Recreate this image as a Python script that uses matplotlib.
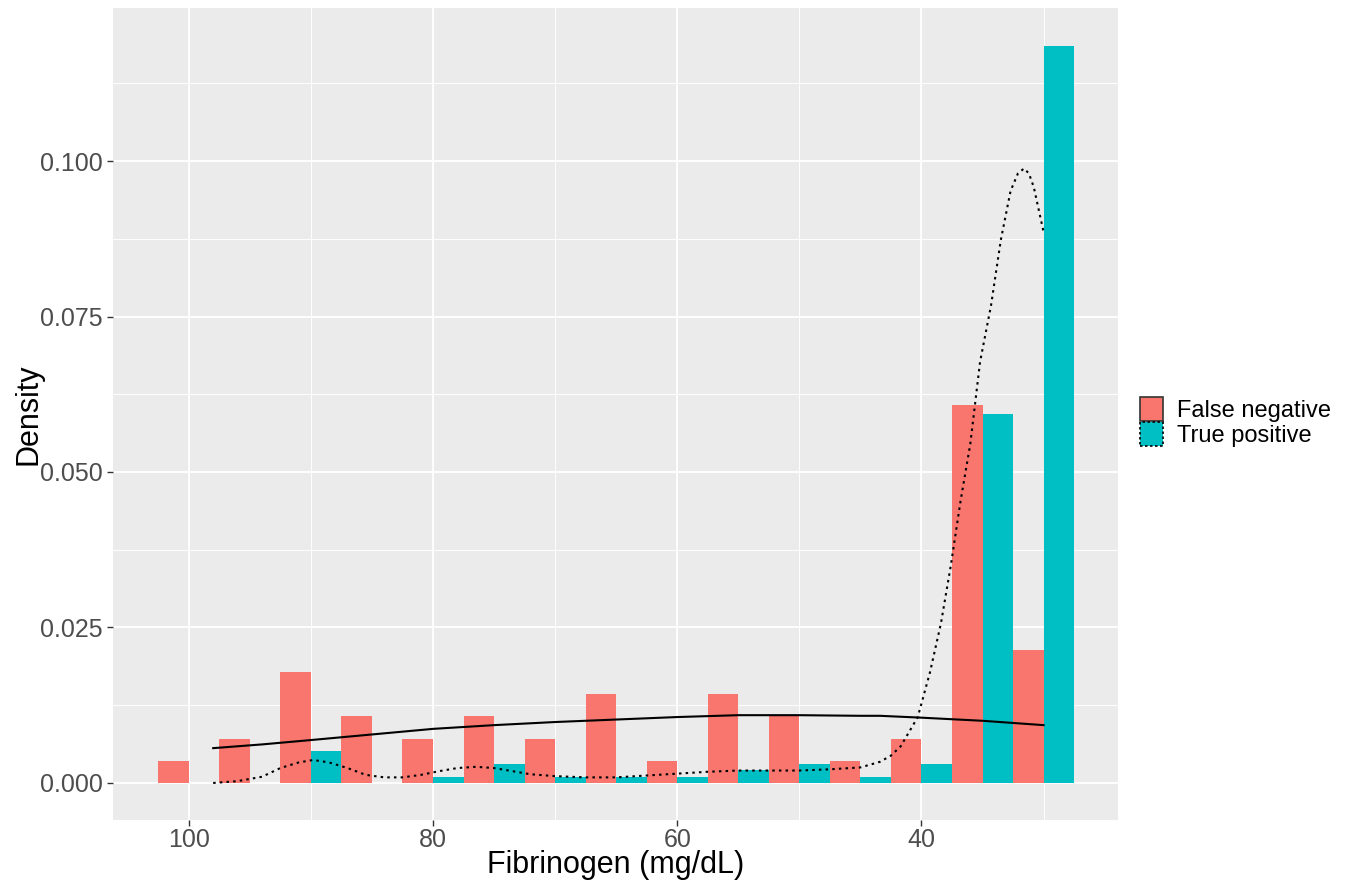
import matplotlib.pyplot as plt
from matplotlib.patches import Patch
from matplotlib.ticker import MultipleLocator

plt.rcParams['font.family'] = ['Liberation Sans', 'DejaVu Sans']

# histogram bins (centres, width 5), density per group
bin_centers = [100, 95, 90, 85, 80, 75, 70, 65, 60, 55, 50, 45, 40, 35, 30]
fn_density = [0.00357, 0.00714, 0.01786, 0.01071, 0.00714, 0.01071, 0.00714,
              0.01429, 0.00357, 0.01429, 0.01071, 0.00357, 0.00714, 0.06071, 0.02143]
tp_density = [0.0, 0.0, 0.00515, 0.0, 0.00103, 0.00309, 0.00103,
              0.00103, 0.00103, 0.00206, 0.00309, 0.00103, 0.00309, 0.05928, 0.11856]

# kernel density curves
fn_kde_x = [98, 94, 90, 85, 80, 75, 70, 65, 60, 55, 50, 45, 43.4, 40, 35, 30]
fn_kde_y = [0.0056, 0.0062, 0.0069, 0.0078, 0.0087, 0.0093, 0.0098, 0.0102,
            0.0106, 0.0109, 0.0109, 0.0108, 0.0108, 0.0105, 0.0100, 0.0093]

tp_kde_x = [98, 96, 94, 92.5, 91, 89.8, 88.5, 87, 85.5, 84, 82.5, 81, 79.5, 78,
            76.5, 75, 73.5, 72, 70, 67.5, 65, 62.5, 60, 57.5, 55, 52.5, 50, 47.5,
            45, 43.4, 42.5, 41.7, 40.3, 39.3, 38.4, 37.6, 36.8, 36.0, 35.2, 34.3,
            33.5, 32.7, 32.1, 31.6, 31.2, 30.8, 30.0]
tp_kde_y = [0.0, 0.0003, 0.0010, 0.0024, 0.0033, 0.0037, 0.0033, 0.0024, 0.0013,
            0.0009, 0.0009, 0.0013, 0.0019, 0.0024, 0.0026, 0.0024, 0.0019, 0.0014,
            0.0011, 0.0009, 0.0009, 0.0012, 0.0015, 0.0018, 0.0020, 0.0020, 0.0020,
            0.0022, 0.0025, 0.0034, 0.0044, 0.0059, 0.0106, 0.0178, 0.0257, 0.0349,
            0.0453, 0.0545, 0.0677, 0.0768, 0.0873, 0.0952, 0.0980, 0.0988, 0.0980,
            0.0958, 0.0886]

RED = '#F8766D'
TEAL = '#00BFC4'
BAR_W = 2.5

fig = plt.figure(figsize=(13.49, 8.8), dpi=100)
ax = fig.add_axes([0.0838, 0.0682, 0.7450, 0.9227])
ax.set_facecolor('#EBEBEB')

ax.bar([c + BAR_W / 2 for c in bin_centers], fn_density, width=BAR_W, color=RED, zorder=2)
ax.bar([c - BAR_W / 2 for c in bin_centers], tp_density, width=BAR_W, color=TEAL, zorder=2)

ax.plot(fn_kde_x, fn_kde_y, color='black', lw=1.5, zorder=3)
ax.plot(tp_kde_x, tp_kde_y, color='black', lw=1.5, ls=(0, (1.2, 2.0)), zorder=3)

ax.set_xlim(106.2, 23.9)
ax.set_ylim(-0.00595, 0.1246)

ax.xaxis.set_major_locator(MultipleLocator(20))
ax.xaxis.set_minor_locator(MultipleLocator(10))
ax.yaxis.set_major_locator(MultipleLocator(0.025))
ax.yaxis.set_minor_locator(MultipleLocator(0.0125))
ax.set_xticks([100, 80, 60, 40])
ax.set_yticks([0, 0.025, 0.05, 0.075, 0.1])
ax.set_yticklabels(['0.000', '0.025', '0.050', '0.075', '0.100'])

ax.grid(which='major', color='white', lw=1.3, zorder=0)
ax.grid(which='minor', color='white', lw=0.65, zorder=0)
ax.set_axisbelow(True)
for s in ax.spines.values():
    s.set_visible(False)

ax.tick_params(which='major', length=4.5, width=1.0, color='#333333',
               labelsize=18, labelcolor='#4D4D4D', pad=3)
ax.tick_params(axis='x', which='major', pad=1)
ax.tick_params(which='minor', length=0)

ax.set_xlabel('Fibrinogen (mg/dL)', fontsize=22, color='black', labelpad=-1)
ax.set_ylabel('Density', fontsize=22, color='black', labelpad=-3)

handles = [Patch(facecolor=RED, edgecolor='#333333', lw=1.2, ls='-'),
           Patch(facecolor=TEAL, edgecolor='black', lw=1.2, ls=(0, (1.5, 1.5)))]
ax.legend(handles, ['False negative', 'True positive'], loc='center left',
          bbox_to_anchor=(1.012, 0.49), frameon=False, fontsize=17,
          handlelength=1.0, handleheight=1.15, handletextpad=0.6, labelspacing=0.0,
          borderaxespad=0)

fig.savefig('out.png', dpi=100)
